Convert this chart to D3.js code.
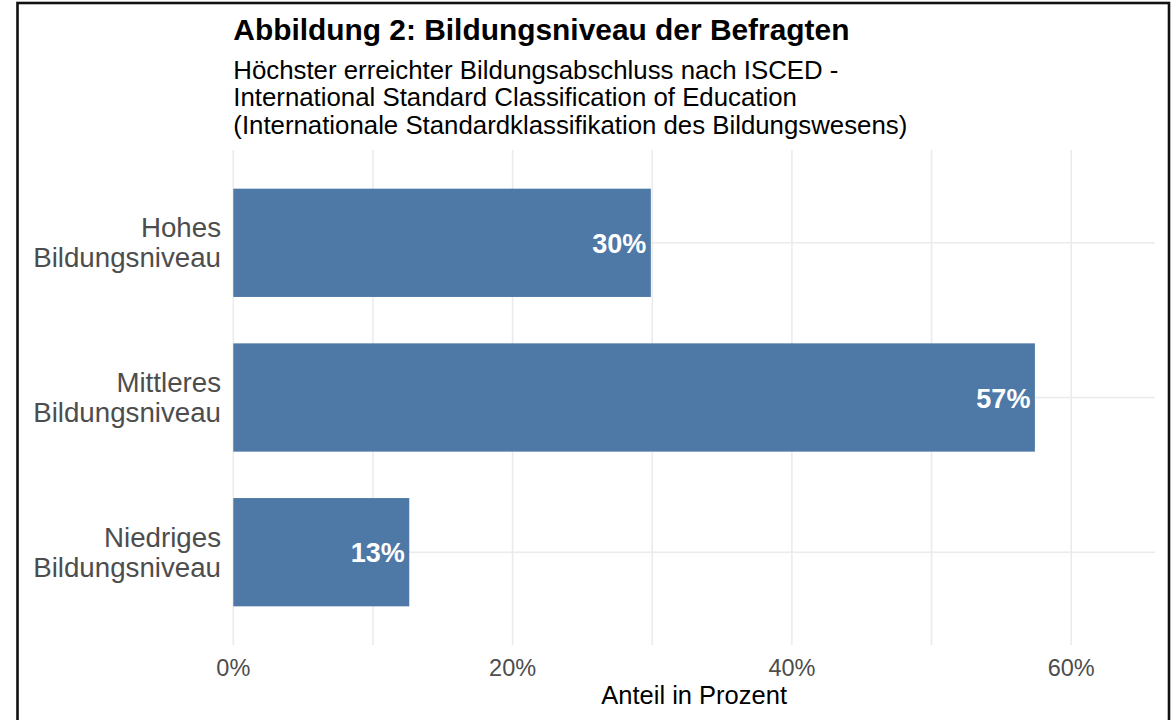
<!DOCTYPE html>
<html>
<head>
<meta charset="utf-8">
<script src="https://cdn.jsdelivr.net/npm/d3@7"></script>
<style>
  html, body { margin: 0; padding: 0; background: #fff; }
  svg { display: block; }
  text { font-family: "Liberation Sans", Arial, sans-serif; }
</style>
</head>
<body>
<svg id="chart" width="1175" height="720"></svg>
<script>
// ---- data ----
const categories = ["Hohes Bildungsniveau", "Mittleres Bildungsniveau", "Niedriges Bildungsniveau"];
const categoryLines = [["Hohes", "Bildungsniveau"], ["Mittleres", "Bildungsniveau"], ["Niedriges", "Bildungsniveau"]];
const shares = [29.9, 57.4, 12.6];
const valueLabels = ["30%", "57%", "13%"];
const majorTicks = [0, 20, 40, 60];
const minorTicks = [10, 30, 50];
const tickLabels = ["0%", "20%", "40%", "60%"];
const titleText = "Abbildung 2: Bildungsniveau der Befragten";
const subtitleLines = [
  "Höchster erreichter Bildungsabschluss nach ISCED -",
  "International Standard Classification of Education",
  "(Internationale Standardklassifikation des Bildungswesens)"
];
const xTitle = "Anteil in Prozent";

// ---- layout ----
const panel = { left: 233.3, right: 1155, top: 150, bottom: 645 };
const svg = d3.select("#chart");

// frame
svg.append("rect")
  .attr("x", 17.5).attr("y", 3).attr("width", 1151.5).attr("height", 800)
  .attr("fill", "none").attr("stroke", "#111").attr("stroke-width", 2.6);

const x = d3.scaleLinear().domain([0, 66]).range([panel.left, panel.right]);
const y = d3.scalePoint().domain(categories).range([panel.top, panel.bottom]).padding(0.6);
const barH = y.step() * 0.7;

const grid = svg.append("g");
grid.selectAll("line.minor").data(minorTicks).join("line")
  .attr("x1", d => x(d)).attr("x2", d => x(d))
  .attr("y1", panel.top).attr("y2", panel.bottom)
  .attr("stroke", "#ebebeb").attr("stroke-width", 1.6);
grid.selectAll("line.major").data(majorTicks).join("line")
  .attr("x1", d => x(d)).attr("x2", d => x(d))
  .attr("y1", panel.top).attr("y2", panel.bottom)
  .attr("stroke", "#ebebeb").attr("stroke-width", 1.6);
grid.selectAll("line.h").data(categories).join("line")
  .attr("x1", panel.left).attr("x2", panel.right)
  .attr("y1", d => y(d)).attr("y2", d => y(d))
  .attr("stroke", "#ebebeb").attr("stroke-width", 1.6);

// bars
svg.append("g").selectAll("rect").data(categories).join("rect")
  .attr("x", x(0))
  .attr("y", d => y(d) - barH / 2)
  .attr("width", (d, i) => x(shares[i]) - x(0))
  .attr("height", barH)
  .attr("fill", "#4e79a7");

// value labels
svg.append("g").selectAll("text").data(categories).join("text")
  .attr("x", (d, i) => x(shares[i]) - 4.5)
  .attr("y", d => y(d) + 10)
  .attr("text-anchor", "end")
  .attr("font-size", 27).attr("font-weight", "bold").attr("fill", "#fff")
  .text((d, i) => valueLabels[i]);

// y axis labels
const yl = svg.append("g").selectAll("text").data(categories).join("text")
  .attr("text-anchor", "end")
  .attr("font-size", 27.7).attr("fill", "#4d4d4d");
yl.each(function(d, i) {
  const t = d3.select(this);
  categoryLines[i].forEach((ln, j) => {
    t.append("tspan").attr("x", 221).attr("y", y(d) - 5.5 + j * 30).text(ln);
  });
});

// x axis tick labels
svg.append("g").selectAll("text").data(majorTicks).join("text")
  .attr("x", d => x(d)).attr("y", 675.5)
  .attr("text-anchor", "middle")
  .attr("font-size", 23.5).attr("fill", "#4d4d4d")
  .text((d, i) => tickLabels[i]);

// x axis title
svg.append("text")
  .attr("x", (panel.left + panel.right) / 2).attr("y", 704)
  .attr("text-anchor", "middle")
  .attr("font-size", 25.5).attr("fill", "#000")
  .text(xTitle);

// title
svg.append("text")
  .attr("x", panel.left).attr("y", 39.5)
  .attr("font-size", 29.9).attr("font-weight", "bold").attr("fill", "#000")
  .text(titleText);

// subtitle
svg.append("g").selectAll("text").data(subtitleLines).join("text")
  .attr("x", panel.left).attr("y", (d, i) => 78.5 + i * 27.5)
  .attr("font-size", 25.8).attr("fill", "#000")
  .text(d => d);
</script>
</body>
</html>
